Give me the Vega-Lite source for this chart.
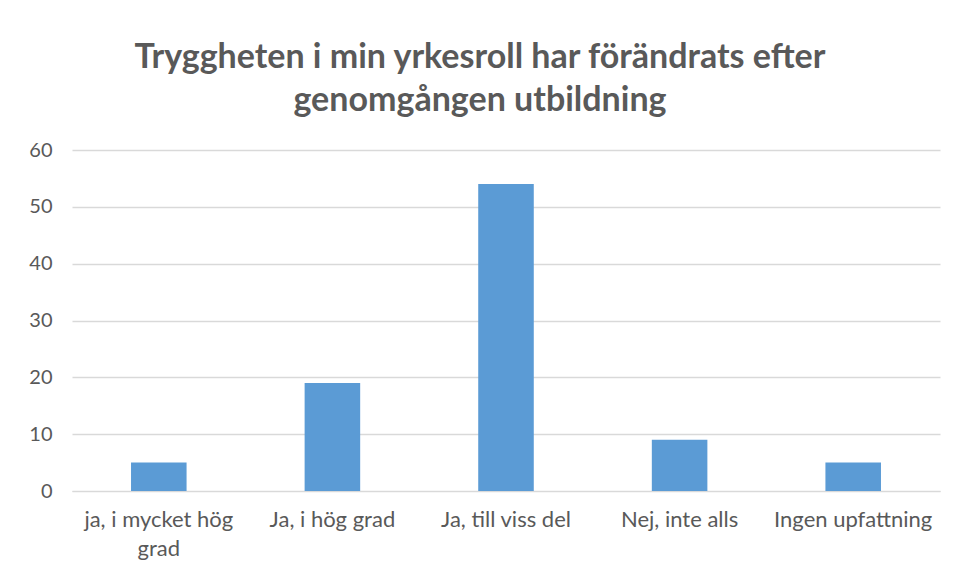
{
  "$schema": "https://vega.github.io/schema/vega-lite/v6.json",
  "autosize": "none",
  "width": 868,
  "height": 341,
  "padding": {"left": 72, "top": 150, "right": 19, "bottom": 85},
  "background": "white",
  "title": {
    "text": ["Tryggheten i min yrkesroll har förändrats efter", "genomgången utbildning"],
    "font": "Lato",
    "fontSize": 34,
    "fontWeight": "bold",
    "color": "#595959",
    "lineHeight": 43,
    "anchor": "middle",
    "frame": "group",
    "dx": -26,
    "offset": 22
  },
  "data": {
    "values": [
      {"kategori": "ja, i mycket hög grad", "antal": 5},
      {"kategori": "Ja, i hög grad", "antal": 19},
      {"kategori": "Ja, till viss del", "antal": 54},
      {"kategori": "Nej, inte alls", "antal": 9},
      {"kategori": "Ingen upfattning", "antal": 5}
    ]
  },
  "mark": {"type": "bar", "color": "#5B9BD5"},
  "encoding": {
    "x": {
      "field": "kategori",
      "type": "nominal",
      "sort": null,
      "scale": {"paddingInner": 0.68, "paddingOuter": 0.34},
      "axis": {
        "title": null,
        "labelAngle": 0,
        "labelFont": "Lato",
        "labelFontSize": 22,
        "labelColor": "#595959",
        "labelPadding": 18,
        "labelLineHeight": 29,
        "labelLimit": 200,
        "ticks": false,
        "domainColor": "#d9d9d9",
        "labelExpr": "datum.label == 'ja, i mycket hög grad' ? ['ja, i mycket hög', 'grad'] : datum.label"
      }
    },
    "y": {
      "field": "antal",
      "type": "quantitative",
      "scale": {"domain": [0, 60]},
      "axis": {
        "title": null,
        "values": [0, 10, 20, 30, 40, 50, 60],
        "labelFont": "Lato",
        "labelFontSize": 20,
        "labelColor": "#595959",
        "labelPadding": 20,
        "ticks": false,
        "domain": false,
        "gridColor": "#d9d9d9",
        "gridWidth": 1.3
      }
    }
  },
  "config": {"view": {"stroke": null}}
}
